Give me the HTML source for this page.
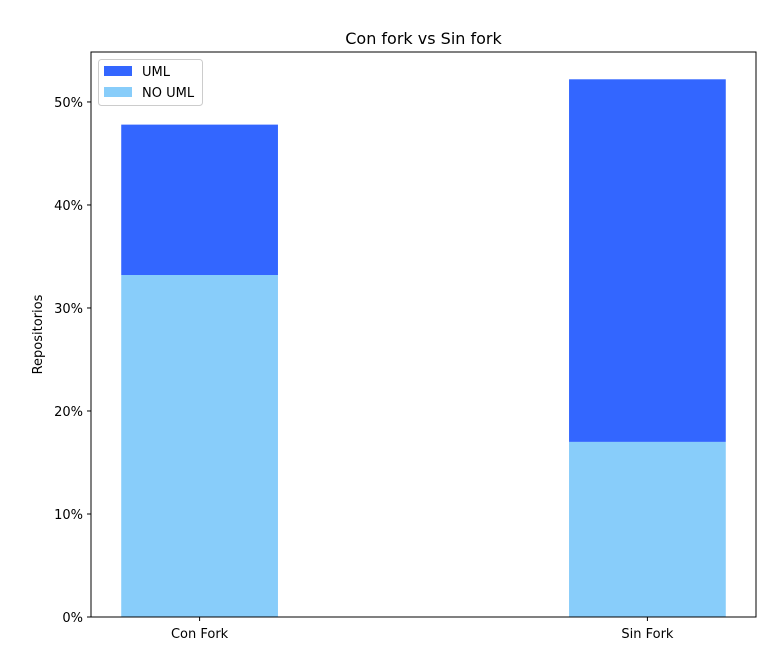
<!DOCTYPE html>
<html><head><meta charset="utf-8"><style>
body{margin:0;background:#fff;}
svg{display:block;font-family:"DejaVu Sans","Liberation Sans",sans-serif;}
</style></head><body>
<svg id="chart" width="774" height="671">
<text x="423.5" y="44" text-anchor="middle" font-size="16">Con fork vs Sin fork</text>
<text transform="translate(42,334.5) rotate(-90)" text-anchor="middle" font-size="13">Repositorios</text>
<g id="bars"></g>
<g id="axes"></g>
<rect x="91" y="52" width="665" height="565" fill="none" stroke="#000" stroke-width="1"/>
<g>
<rect x="98.5" y="59.5" width="104" height="46" rx="3" fill="#fff" stroke="#ccc"/>
<rect x="104" y="66" width="28" height="10" fill="#3366ff"/>
<text x="142" y="76" font-size="13">UML</text>
<rect x="104" y="87" width="28" height="10" fill="#88cdfa"/>
<text x="142" y="97" font-size="13">NO UML</text>
</g>
</svg>
<script>
const categories = ["Con Fork", "Sin Fork"];
const noUml = [33.2, 17.0];
const uml = [14.6, 35.2];
const yTicks = [0, 10, 20, 30, 40, 50];
const yTickLabels = ["0%", "10%", "20%", "30%", "40%", "50%"];

const L = 91, R = 756, T = 52, B = 617;
const xmin = -0.2425, xmax = 1.2425, ymax = 54.85;
const barW = 0.35;
const sx = v => L + (v - xmin) / (xmax - xmin) * (R - L);
const sy = v => B - v / ymax * (B - T);
const NS = "http://www.w3.org/2000/svg";
const bars = document.getElementById("bars");
const axes = document.getElementById("axes");

categories.forEach((c, i) => {
  const x0 = sx(i - barW / 2), w = sx(i + barW / 2) - x0;
  const r1 = document.createElementNS(NS, "rect");
  r1.setAttribute("x", x0); r1.setAttribute("width", w);
  r1.setAttribute("y", sy(noUml[i])); r1.setAttribute("height", B - sy(noUml[i]));
  r1.setAttribute("fill", "#88cdfa");
  
  
  bars.appendChild(r1);
  const r2 = document.createElementNS(NS, "rect");
  const top = sy(noUml[i] + uml[i]);
  r2.setAttribute("x", x0); r2.setAttribute("width", w);
  r2.setAttribute("y", top); r2.setAttribute("height", sy(noUml[i]) - top);
  r2.setAttribute("fill", "#3366ff");
  
  
  bars.appendChild(r2);
  const tk = document.createElementNS(NS, "line");
  tk.setAttribute("x1", sx(i)); tk.setAttribute("x2", sx(i));
  tk.setAttribute("y1", B); tk.setAttribute("y2", B + 4); tk.setAttribute("stroke", "#000");
  
  
  axes.appendChild(tk);
  const t = document.createElementNS(NS, "text");
  t.setAttribute("x", sx(i)); t.setAttribute("y", B + 21);
  t.setAttribute("text-anchor", "middle"); t.setAttribute("font-size", "13");
  t.textContent = c;
  
  
  axes.appendChild(t);
});

yTicks.forEach((v, i) => {
  const y = sy(v);
  const tk = document.createElementNS(NS, "line");
  tk.setAttribute("x1", L - 4); tk.setAttribute("x2", L);
  tk.setAttribute("y1", y); tk.setAttribute("y2", y); tk.setAttribute("stroke", "#000");
  
  
  axes.appendChild(tk);
  const t = document.createElementNS(NS, "text");
  t.setAttribute("x", L - 8); t.setAttribute("y", y + 5);
  t.setAttribute("text-anchor", "end"); t.setAttribute("font-size", "13");
  t.textContent = yTickLabels[i];
  
  
  axes.appendChild(t);
});
</script>
</body></html>
